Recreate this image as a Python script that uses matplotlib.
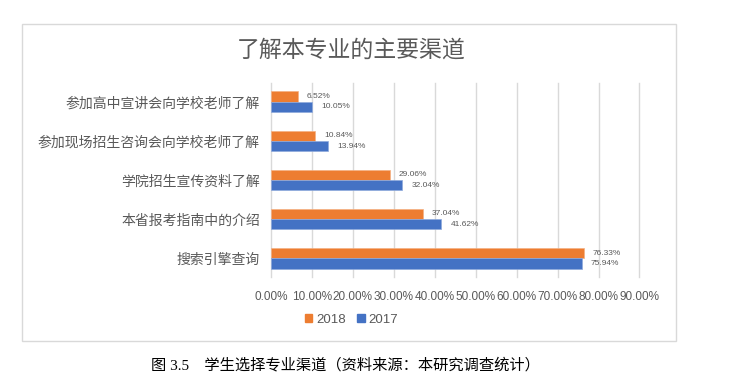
import matplotlib.pyplot as plt
from matplotlib.patches import Rectangle, Patch

plt.rcParams['font.family'] = ['Noto Sans CJK SC', 'DejaVu Sans']

# 数据（从下到上）
channels = ['搜索引擎查询', '本省报考指南中的介绍', '学院招生宣传资料了解',
            '参加现场招生咨询会向学校老师了解', '参加高中宣讲会向学校老师了解']
y2018 = [76.33, 37.04, 29.06, 10.84, 6.52]
y2017 = [75.94, 41.62, 32.04, 13.94, 10.05]
xticks = [0, 10, 20, 30, 40, 50, 60, 70, 80, 90]

c2018 = '#ED7D31'
c2017 = '#4472C4'
gray = '#595959'
h = 0.265

fig = plt.figure(figsize=(7.35, 3.77), dpi=100)
ax = fig.add_axes([271 / 735, 1 - 277 / 377, 368.5 / 735, 194 / 377])

pos = list(range(len(channels)))
ax.barh([p + h / 2 for p in pos], y2018, height=h, color=c2018, edgecolor='#F4B183', linewidth=0.5, zorder=3)
ax.barh([p - h / 2 for p in pos], y2017, height=h, color=c2017, edgecolor='#8FAADC', linewidth=0.5, zorder=3)

for p, v in zip(pos, y2018):
    ax.annotate(f'{v:.2f}%', (v, p + h / 2), xytext=(6.5, 0), textcoords='offset points',
                va='center', ha='left', fontsize=6, color=gray, family='Liberation Sans')
for p, v in zip(pos, y2017):
    ax.annotate(f'{v:.2f}%', (v, p - h / 2), xytext=(6.5, 0), textcoords='offset points',
                va='center', ha='left', fontsize=6, color=gray, family='Liberation Sans')

ax.set_xlim(0, 90)
ax.set_ylim(-0.48, 4.48)
ax.set_xticks(xticks)
ax.set_xticklabels([f'{t:.2f}%' for t in xticks], family='Liberation Sans', fontsize=8.5, color=gray)
ax.set_yticks(pos)
ax.set_yticklabels(channels, fontsize=10, color=gray)
ax.tick_params(length=0)
ax.tick_params(axis='x', pad=10)
ax.tick_params(axis='y', pad=8)
ax.grid(axis='x', color='#D9D9D9', linewidth=1, zorder=0)
for line in ax.get_xgridlines():
    line.set_clip_on(False)
for s in ax.spines.values():
    s.set_visible(False)

fig.text(350.8 / 735, 1 - 50 / 377, '了解本专业的主要渠道', ha='center', va='center', fontsize=16.5, color=gray)

handles = [Patch(color=c2018, label='2018'), Patch(color=c2017, label='2017')]
fig.legend(handles=handles, loc='center', bbox_to_anchor=(351.5 / 735, 1 - 320 / 377), ncol=2,
           frameon=False, handlelength=0.55, handleheight=0.55, handletextpad=0.3,
           columnspacing=0.9, prop={'family': 'Liberation Sans', 'size': 9.5}, labelcolor=gray)

# 图表外框
fig.patches.append(Rectangle((22 / 735, 1 - 341 / 377), 654 / 735, 317 / 377, transform=fig.transFigure,
                             fill=False, edgecolor='#D9D9D9', linewidth=1))

fig.text(151 / 735, 1 - 365 / 377, '图 3.5　学生选择专业渠道（资料来源：本研究调查统计）', ha='left', va='center',
         fontsize=11, color='black', family=['Liberation Serif', 'Noto Sans CJK SC'])

fig.savefig('out.png', dpi=100)
